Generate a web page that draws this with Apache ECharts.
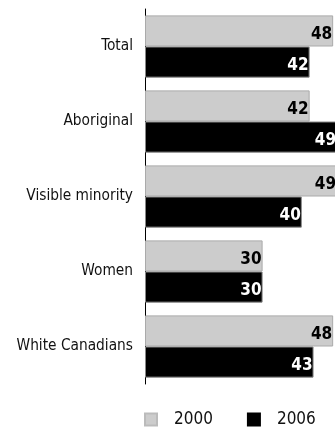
<!DOCTYPE html>
<html><head><meta charset="utf-8">
<script src="https://cdn.jsdelivr.net/npm/echarts@6/dist/echarts.min.js"></script>
<style>html,body{margin:0;padding:0;background:#fff}#c{width:335px;height:434px}</style>
</head><body><div id="c"></div>
<script>
var categories = ['Total', 'Aboriginal', 'Visible minority', 'Women', 'White Canadians'];
var series2000 = [48, 42, 49, 30, 48];
var series2006 = [42, 49, 40, 30, 43];
var seriesNames = ['2000', '2006'];

var FONT = '"DejaVu Sans Condensed", "Liberation Sans Narrow", "Arial Narrow", sans-serif';
var chart = echarts.init(document.getElementById('c'), null, {renderer: 'canvas'});
chart.setOption({
  animation: false,
  grid: {left: 145, top: 9, height: 375, width: 196, containLabel: false, outerBoundsMode: 'none'},
  xAxis: {type: 'value', min: 0, max: 50, show: false},
  yAxis: {
    type: 'category', data: categories, inverse: true,
    axisLine: {show: true, lineStyle: {color: '#000', width: 1}},
    axisTick: {show: false},
    axisLabel: {color: '#111', fontFamily: FONT, fontSize: 15.3, margin: 12}
  },
  legend: {
    bottom: 1, left: 139, itemWidth: 12, itemHeight: 12, itemGap: 34,
    icon: 'rect',
    textStyle: {fontFamily: FONT, fontSize: 17, color: '#111', padding: [0, 0, 0, 12]},
    data: [
      {name: seriesNames[0], itemStyle: {borderColor: '#bbbbbb'}},
      {name: seriesNames[1], itemStyle: {borderColor: '#000000'}}
    ]
  },
  series: [
    {name: seriesNames[0], type: 'bar', data: series2000, barGap: '0%', barCategoryGap: '17%',
     itemStyle: {color: '#cccccc', borderColor: '#aaaaaa', borderWidth: 1},
     label: {show: true, position: 'insideRight', distance: 1, offset: [0, 4], color: '#000',
       fontFamily: FONT, fontWeight: 'bold', fontSize: 17}},
    {name: seriesNames[1], type: 'bar', data: series2006, barGap: '0%', barCategoryGap: '17%',
     itemStyle: {color: '#000000', borderColor: '#888888', borderWidth: 1},
     label: {show: true, position: 'insideRight', distance: 1, offset: [0, 4], color: '#fff',
       fontFamily: FONT, fontWeight: 'bold', fontSize: 17}}
  ]
});
</script></body></html>
